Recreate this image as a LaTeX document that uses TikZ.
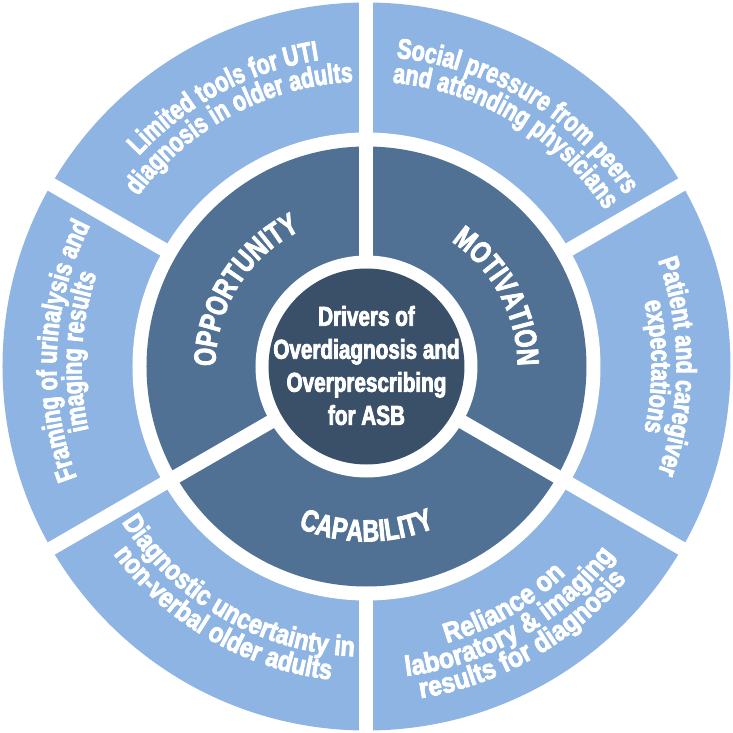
\documentclass[tikz,border=0pt]{standalone}
\usepackage{fontspec}
\setmainfont{Liberation Sans}[FakeStretch=0.76]
\newfontfamily\midwide{Liberation Sans}[FakeStretch=0.83]
\newfontfamily\wide{Liberation Sans}[FakeStretch=0.88]
\usetikzlibrary{decorations.text}
\definecolor{celeste}{HTML}{8DB4E2}
\definecolor{acero}{HTML}{507194}
\definecolor{pizarra}{HTML}{3A5069}
% heavier strokes: fill and stroke the glyphs
\newcommand{\heavy}{\special{pdf:literal direct 2 Tr 0.45 w}}
\newcommand{\ringfont}{\fontsize{16}{16}\selectfont\bfseries\heavy}
\newcommand{\sectfont}{\fontsize{17.5}{17.5}\selectfont\bfseries\heavy}
% one line of text on an arc: centre angle, baseline radius, text
\newcommand{\cwline}[3]{\path[ringtext={#3}] ({#1+45}:#2) arc[start angle=#1+45,end angle=#1-45,radius=#2];}
\newcommand{\ccwline}[3]{\path[ringtext={#3}] ({#1-45}:#2) arc[start angle=#1-45,end angle=#1+45,radius=#2];}

\begin{document}
\begin{tikzpicture}[
    gap/.style={white,line width=0.28cm},
    ringtext/.style={decorate,decoration={text along path,text align=center,
        text color=white,text={|\ringfont|#1}}}]
  \useasboundingbox (-7.33,-7.33) rectangle (7.33,7.33);
  \fill[celeste] (0,0) circle (7.28);
  \fill[white]   (0,0) circle (4.68);
  \fill[acero]   (0,0) circle (4.40);
  \fill[white]   (0,0) circle (2.22);
  \fill[pizarra] (0,0) circle (1.96);
  \foreach \a in {30,90,...,330}
    \draw[gap] (\a:4.50) -- (\a:7.40);
  \foreach \a in {90,210,330}
    \draw[gap] (\a:2.10) -- (\a:4.50);
  \node[text=white,align=center,font=\fontsize{15.5}{18.8}\selectfont\bfseries\heavy]
    (hub) at (0,0.02) {Drivers of\\Overdiagnosis and\\Overprescribing\\for ASB};
  \cwline{148}{3.02}{|\sectfont|OPPORTUNITY}
  \cwline{28}{3.02}{|\sectfont|MOTIVATION}
  \ccwline{270}{3.50}{|\sectfont|CAPABILITY}
  \cwline{118}{6.20}{Limited tools for UTI}
  \cwline{118}{5.70}{diagnosis in older adults}
  \cwline{59}{6.20}{Social pressure from peers}
  \cwline{59}{5.70}{and attending physicians}
  \cwline{0}{6.20}{Patient and caregiver}
  \cwline{0}{5.70}{expectations}
  \cwline{177}{6.20}{Framing of urinalysis and}
  \cwline{177}{5.70}{imaging results}
  \ccwline{300}{5.76}{|\wide\ringfont|Reliance on}
  \ccwline{300}{6.24}{|\wide\ringfont|laboratory {\&} imaging}
  \ccwline{300}{6.72}{|\wide\ringfont|results for diagnosis}
  \ccwline{240}{5.80}{|\midwide\ringfont|Diagnostic uncertainty in}
  \ccwline{240}{6.30}{|\midwide\ringfont|non-verbal older adults}
\end{tikzpicture}
\end{document}
